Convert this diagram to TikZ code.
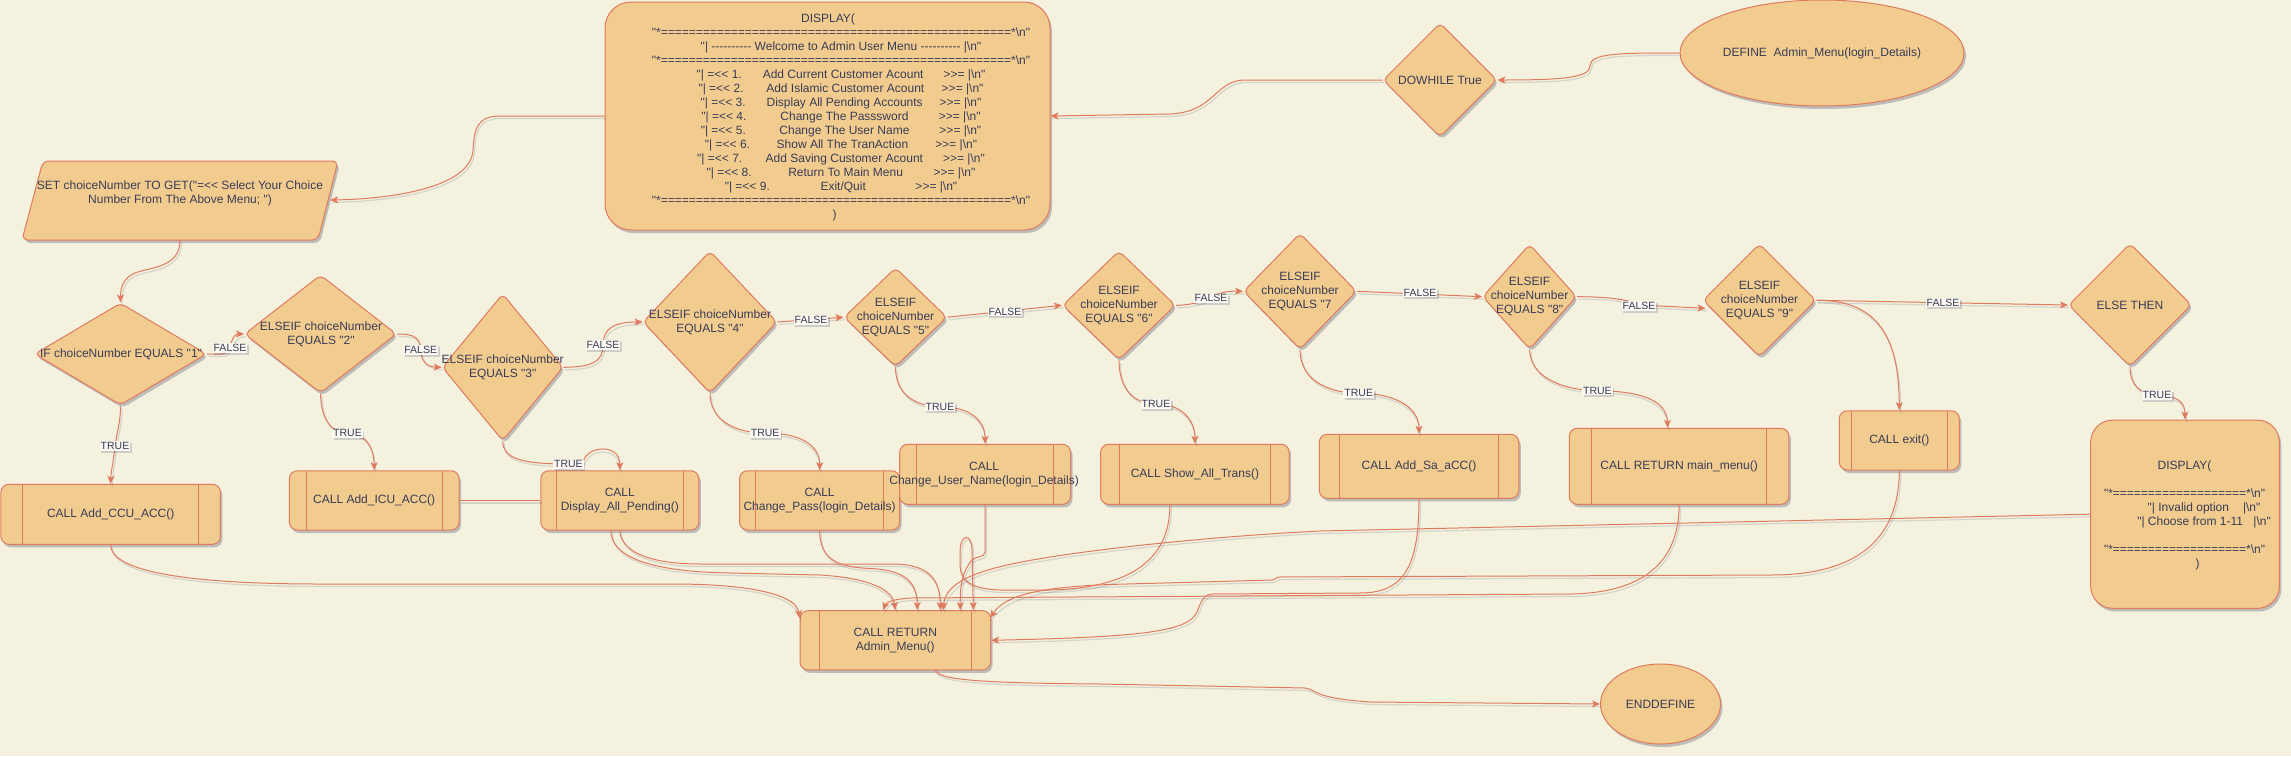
\documentclass[tikz,border=0pt]{standalone}
\usepackage{fontspec}
\newfontfamily\lsans{Liberation Sans}
\usetikzlibrary{shapes.geometric,arrows.meta,shadows,calc}
\definecolor{bgc}{HTML}{F4F1DE}
\definecolor{fillc}{HTML}{F2CC8F}
\definecolor{strokec}{HTML}{E07A5F}
\definecolor{textc}{HTML}{393C56}
\definecolor{lblbg}{HTML}{FAF8F0}
\newcommand\bsn{\textbackslash n}
\newcommand\mline[4]{"| =<< #1.\hspace{#2pt}#3\hspace{#4pt}>>= |\bsn"}
\newcommand\eqfifty{==================================================}
\newcommand\eqnineteen{===================}
\begin{document}
\begin{tikzpicture}[x=1pt,y=-1pt,
  shad/.style={drop shadow={shadow xshift=2pt,shadow yshift=-3pt,opacity=0.22,fill=black!80!blue}},
  base/.style={draw=strokec,fill=fillc,line width=1pt,inner sep=0pt,shad,
    font=\lsans\fontsize{12}{14}\selectfont,text=textc,align=center},
  dia/.style={base,diamond,rounded corners=5pt},
  proc/.style={base,rectangle,rounded corners=8pt,
    path picture={
      \draw[strokec,line width=1pt]
      ($(path picture bounding box.north west)!0.1!(path picture bounding box.north east)$) --
      ($(path picture bounding box.south west)!0.1!(path picture bounding box.south east)$)
      ($(path picture bounding box.north west)!0.9!(path picture bounding box.north east)$) --
      ($(path picture bounding box.south west)!0.9!(path picture bounding box.south east)$);
    }},
  rbox/.style={base,rectangle},
  ell/.style={base,ellipse},
  txt/.style={font=\lsans\fontsize{12}{14}\selectfont,text=textc,align=center,inner sep=0pt},
  lbl/.style={font=\lsans\fontsize{10.5}{12}\selectfont,text=textc,fill=lblbg,inner sep=1pt,
    drop shadow={shadow xshift=1.5pt,shadow yshift=-2pt,opacity=0.15,fill=black!70!blue}},
  lshadow/.style={preaction={draw=black!80!blue,opacity=0.12,line width=1.2pt,-,
    transform canvas={shift={(1.5pt,-2.5pt)}}}},
  conn/.style={lshadow,draw=strokec,line width=1pt,-{Stealth[length=8pt,width=7pt,inset=2pt]}},
  link/.style={lshadow,draw=strokec,line width=1pt},
]
\useasboundingbox (0,0) rectangle (2291,756);
\fill[bgc] (0,0) rectangle (2291,756);

% ---------- nodes ----------
\node[ell,minimum width=284pt,minimum height=106pt] (DEF) at (1822,53) {DEFINE\ \ Admin\_Menu(login\_Details)};
\node[dia,minimum width=114pt,minimum height=114pt] (DW) at (1440,80) {};
\node[txt] (DWt) at (1440,80) {DOWHILE True};

\node[rbox,rounded corners=26pt,minimum width=445pt,minimum height=228pt] (DISP) at (827.5,116) {};
\node[txt] (DISPt) at (841,117.5) {DISPLAY(\hspace*{26pt}\\
"*\eqfifty*\bsn"\\
"| ---------- Welcome to Admin User Menu ---------- |\bsn"\\
"*\eqfifty*\bsn"\\
\mline{1}{21}{Add Current Customer Acount}{20}\\
\mline{2}{22.7}{Add Islamic Customer Acount}{17.4}\\
\mline{3}{21}{Display All Pending Accounts}{17}\\
\mline{4}{34}{Change The Passsword}{30.4}\\
\mline{5}{33.6}{Change The User Name}{30}\\
\mline{6}{26.7}{Show All The TranAction}{27}\\
\mline{7}{23.4}{Add Saving Customer Acount}{20}\\
\mline{8}{36.6}{Return To Main Menu}{30.6}\\
\mline{9}{50.7}{Exit/Quit}{49.6}\\
"*\eqfifty*\bsn"\\
)\hspace*{12.6pt}};

\path[draw=strokec,fill=fillc,line width=1pt,shad,rounded corners=6pt]
  (43,161) -- (338,161) -- (318,240) -- (22,240) -- cycle;
\node[minimum width=300pt,minimum height=80pt,inner sep=0pt] (SET) at (180,200) {};
\node[txt] (SETt) at (180,193.7) {SET choiceNumber TO GET("=<< Select Your Choice\\Number From The Above Menu; ")};

\node[dia,minimum width=172pt,minimum height=102pt] (IF) at (120.5,354) {};
\node[txt] (IFt) at (121,354) {IF choiceNumber EQUALS "1"};
\node[dia,minimum width=152pt,minimum height=118pt] (E2) at (320.5,334) {};
\node[txt] (E2t) at (321,334.7) {ELSEIF choiceNumber\\EQUALS "2"};
\node[dia,minimum width=121pt,minimum height=147pt] (E3) at (502.7,367.3) {};
\node[txt] (E3t) at (502.7,367.5) {ELSEIF choiceNumber\\EQUALS "3"};
\node[dia,minimum width=134pt,minimum height=142pt] (E4) at (710,322) {};
\node[txt] (E4t) at (710,322.7) {ELSEIF choiceNumber\\EQUALS "4"};
\node[dia,minimum width=103pt,minimum height=99pt] (E5) at (895.5,317.2) {};
\node[txt] (E5t) at (895.5,317.4) {ELSEIF\\choiceNumber\\EQUALS "5"};
\node[dia,minimum width=113pt,minimum height=109pt] (E6) at (1119,305.3) {};
\node[txt] (E6t) at (1119,305.9) {ELSEIF\\choiceNumber\\EQUALS "6"};
\node[dia,minimum width=113pt,minimum height=116pt] (E7) at (1300,291.3) {};
\node[txt] (E7t) at (1300,291.8) {ELSEIF\\choiceNumber\\EQUALS "7};
\node[dia,minimum width=94pt,minimum height=105pt] (E8) at (1529.6,296.7) {};
\node[txt] (E8t) at (1529.6,296.5) {ELSEIF\\choiceNumber\\EQUALS "8"};
\node[dia,minimum width=113pt,minimum height=113pt] (E9) at (1759.5,300.3) {};
\node[txt] (E9t) at (1759.5,300.5) {ELSEIF\\choiceNumber\\EQUALS "9"};
\node[dia,minimum width=123pt,minimum height=123pt] (ELSE) at (2130,305) {};
\node[txt] (ELSEt) at (2130,305.7) {ELSE THEN};

\node[proc,minimum width=219.5pt,minimum height=60pt] (CCU) at (110.7,514.3) {CALL Add\_CCU\_ACC()};
\node[proc,minimum width=169.7pt,minimum height=59.3pt] (ICU) at (374.2,500.4) {CALL Add\_ICU\_ACC()};
\node[proc,minimum width=158pt,minimum height=59.3pt] (DAP) at (619.8,500.4) {CALL\\Display\_All\_Pending()};
\node[proc,minimum width=160.2pt,minimum height=59.3pt] (CP) at (819.6,500.4) {CALL\\Change\_Pass(login\_Details)};
\node[proc,minimum width=170.8pt,minimum height=60pt] (CUN) at (985.1,474.3) {};
\node[txt] (CUNt) at (984.1,474.7) {CALL\\Change\_User\_Name(login\_Details)};
\node[proc,minimum width=188.6pt,minimum height=60pt] (SAT) at (1194.9,474.3) {CALL Show\_All\_Trans()};
\node[proc,minimum width=199.5pt,minimum height=64pt] (ASA) at (1419,466.3) {CALL Add\_Sa\_aCC()};
\node[proc,minimum width=219.6pt,minimum height=76pt] (MM) at (1679.1,466.3) {CALL RETURN main\_menu()};
\node[proc,minimum width=120pt,minimum height=59.3pt] (EXIT) at (1899.3,440.4) {CALL exit()};

\node[rbox,rounded corners=22pt,minimum width=188.6pt,minimum height=188.3pt] (DISP2) at (2185,514.2) {};
\node[txt] (DISP2t) at (2184.5,515) {DISPLAY(\\ \mbox{}\\
"*\eqnineteen*\bsn"\\
\hspace*{39pt}"| Invalid option\hspace{14pt}|\bsn"\\
\hspace*{39pt}"| Choose from 1-11\hspace{10.3pt}|\bsn"\\
\mbox{}\\
"*\eqnineteen*\bsn"\\
\hspace*{26pt})};

\node[proc,minimum width=190.6pt,minimum height=59.3pt] (RET) at (895.3,640.3) {CALL RETURN\\Admin\_Menu()};
\node[ell,minimum width=120pt,minimum height=80pt] (END) at (1660.5,704) {ENDDEFINE};

% ---------- connectors ----------
\draw[conn] (DEF.west) .. controls (1620,53) and (1590,53) .. (1590,66) .. controls (1590,78) and (1560,80) .. (DW.east);
\draw[conn] (DW.west) -- (1245,80) .. controls (1215,80) and (1215,112) .. (1170,114) -- (DISP.east);
\draw[conn] (DISP.west) -- (500,116) .. controls (478,116) and (474,128) .. (473,150) .. controls (471,188) and (390,199) .. (SET.east);
\draw[conn] (SET.south) .. controls (180,268) and (150,267) .. (135,273) .. controls (123,278) and (120.5,288) .. (IF.north);

\draw[conn] (IF.east) -- (222,354) .. controls (232,354) and (230,334) .. (E2.west);
\draw[conn] (E2.east) .. controls (415,334) and (420,338) .. (420.7,350) .. controls (421,362) and (428,367) .. (E3.west);
\draw[conn] (E3.east) .. controls (592,367) and (603,362) .. (603,345) .. controls (603,328) and (615,322) .. (E4.west);
\draw[conn] (E4.east) -- (E5.west);
\draw[conn] (E5.east) -- (E6.west);
\draw[conn] (E6.east) .. controls (1195,305) and (1205,300) .. (1211,298) .. controls (1220,292) and (1228,291) .. (E7.west);
\draw[conn] (E7.east) -- (E8.west);
\draw[conn] (E8.east) .. controls (1610,296.7) and (1630,300) .. (1639,305) -- ($(E9.west)+(3,8)$);
\draw[conn] (E9.east) -- (1943,302.7) -- (ELSE.west);
\draw[conn] (E9.east) .. controls (1880,300) and (1899,340) .. (EXIT.north);
\draw[conn] (ELSE.south) .. controls (2130,385) and (2140,394) .. (2157,395) .. controls (2178,396) and (2185,402) .. (DISP2.north);

\draw[conn] (IF.south) .. controls (120.5,425) and (116,435) .. (115,446) .. controls (114,460) and (111,470) .. (CCU.north);
\draw[conn] (E2.south) .. controls (321,420) and (332,433) .. (347.5,433.3) .. controls (368,433.5) and (374,450) .. (ICU.north);
\draw[conn] (E3.south) .. controls (503,458) and (520,464) .. (568,464) -- (583,463) .. controls (585,446) and (620,442) .. (DAP.north);
\draw[conn] (E4.south) .. controls (710,420) and (735,433) .. (765,433) .. controls (800,433) and (820,445) .. (CP.north);
\draw[conn] (E5.south) .. controls (895.5,392) and (912,406) .. (940,406.7) .. controls (970,407) and (985,420) .. (CUN.north);
\draw[conn] (E6.south) .. controls (1119,390) and (1135,404) .. (1156,404) .. controls (1182,404) and (1195,420) .. (SAT.north);
\draw[conn] (E7.south) .. controls (1300,378) and (1325,393) .. (1358.7,393.3) .. controls (1400,393.5) and (1419,410) .. (ASA.north);
\draw[conn] (E8.south) .. controls (1530,376) and (1560,390) .. (1597,390.7) .. controls (1640,391) and (1667,400) .. ($(MM.north)+(-11.5,0)$);

\draw[link] (ICU.east) -- (DAP.west);

\draw[conn] (CCU.south) .. controls (111,572) and (190,584) .. (320,584) -- (680,584) .. controls (765,585) and (797,598) .. ($(RET.north west)+(0,8)$);
\draw[conn] ($(DAP.south)+(-9,0)$) .. controls (611,560) and (660,572) .. (730,573) -- (820,575) .. controls (870,578) and (893,590) .. (RET.north);
\draw[conn] (DAP.south) .. controls (621,552) and (650,564) .. (700,564) -- (895,564) .. controls (930,565) and (940,580) .. ($(RET.north)+(45,0)$);
\draw[conn] (CP.south) .. controls (820,558) and (835,567) .. (870,568.5) .. controls (905,570) and (917,582) .. ($(RET.north)+(22,0)$);
\draw[conn] (CUN.south) -- (985,552) .. controls (985,558) and (975,556) .. (972,560) .. controls (962,572) and (960,585) .. ($(RET.north)+(65,0)$);
\draw[conn] ($(SAT.south)+(-25,0)$) .. controls (1170,560) and (1130,588) .. (1050,590) -- (1000,590) .. controls (970,589) and (960,580) .. (960,565) -- (960,552) .. controls (960,533) and (972,533) .. (972,550) -- ($(RET.north)+(78,0)$);
\draw[conn] (EXIT.south) .. controls (1899,545) and (1850,575) .. (1771,575) -- (1278,577) -- (1273,580) -- (1127,584) .. controls (1040,586) and (1005,595) .. ($(RET.north east)+(-1,8)$);
\draw[conn] (DISP2.west) -- (1320,531) .. controls (1200,537) and (1050,553) .. (995,568) .. controls (962,577) and (945,588) .. ($(RET.north)+(48,0)$);
\draw[conn] (ASA.south) .. controls (1419,565) and (1405,593) .. (1360,593) -- (1212,594) .. controls (1203,595) and (1201,602) .. (1197,612) .. controls (1188,632) and (1140,637) .. (RET.east);
\draw[conn] (MM.south) .. controls (1679,565) and (1640,593) .. (1570,594) -- (910,598) .. controls (895,599) and (886,602) .. ($(RET.north)+(-12,0)$);
\draw[conn] ($(RET.south)+(40,0)$) .. controls (940,680) and (980,683) .. (1100,684) -- (1305,688) .. controls (1318,690) and (1312,698) .. (1370,702) -- (END.west);

% ---------- labels ----------
\node[lbl] (L1) at (230,348) {FALSE};
\node[lbl] (L2) at (420.7,350) {FALSE};
\node[lbl] (L3) at (603,345) {FALSE};
\node[lbl] (L4) at (811,320) {FALSE};
\node[lbl] (L5) at (1005,311.7) {FALSE};
\node[lbl] (L6) at (1211,298.3) {FALSE};
\node[lbl] (L7) at (1420,292.7) {FALSE};
\node[lbl] (L8) at (1639,306) {FALSE};
\node[lbl] (L9) at (1943,302.7) {FALSE};
\node[lbl] (T1) at (115,446) {TRUE};
\node[lbl] (T2) at (347.5,433.3) {TRUE};
\node[lbl] (T3) at (568.4,464.3) {TRUE};
\node[lbl] (T4) at (765.2,433.3) {TRUE};
\node[lbl] (T5) at (940,406.7) {TRUE};
\node[lbl] (T6) at (1156,404) {TRUE};
\node[lbl] (T7) at (1358.7,393.3) {TRUE};
\node[lbl] (T8) at (1597.4,390.7) {TRUE};
\node[lbl] (T9) at (2157,395) {TRUE};
\end{tikzpicture}
\end{document}
